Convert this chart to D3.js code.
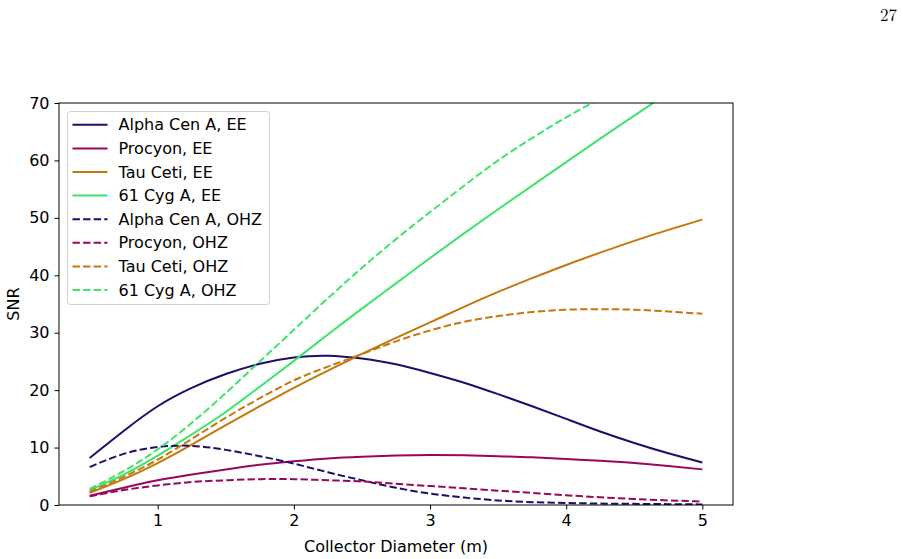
<!DOCTYPE html>
<html>
<head>
<meta charset="utf-8">
<script src="https://cdn.jsdelivr.net/npm/d3@7"></script>
<style>
  body { margin: 0; background: #fff; }
  svg text { font-family: "DejaVu Sans", sans-serif; fill: #000; }
</style>
</head>
<body>
<svg id="chart" width="903" height="559"></svg>
<script>
// collector diameter (m)
const diameters = [0.5, 0.75, 1, 1.25, 1.5, 1.75, 2, 2.25, 2.5, 2.75, 3, 3.25, 3.5, 3.75, 4, 4.25, 4.5, 4.75, 5];

// SNR
const alphaEE = [8.2, 12.9, 17.2, 20.4, 22.8, 24.6, 25.7, 26.0, 25.5, 24.5, 23.0, 21.3, 19.3, 17.2, 15.0, 12.8, 10.8, 9.0, 7.4];
const procyonEE = [1.6, 3.0, 4.3, 5.3, 6.2, 7.0, 7.6, 8.1, 8.4, 8.6, 8.7, 8.65, 8.5, 8.3, 8.0, 7.7, 7.3, 6.8, 6.2];
const tauEE = [2.1, 4.5, 7.3, 10.5, 13.9, 17.2, 20.4, 23.4, 26.3, 29.1, 31.8, 34.5, 37.1, 39.5, 41.8, 43.95, 46.0, 47.9, 49.7];
const cygEE = [2.6, 5.3, 8.6, 12.3, 16.2, 20.6, 25.1, 29.7, 34.2, 38.6, 43.0, 47.3, 51.5, 55.6, 59.7, 63.8, 67.8, 71.8, 75.7];
const alphaOHZ = [6.6, 8.9, 10.1, 10.3, 9.6, 8.5, 7.2, 5.7, 4.3, 3.0, 2.0, 1.3, 0.8, 0.5, 0.35, 0.25, 0.2, 0.15, 0.1];
const procyonOHZ = [1.5, 2.6, 3.4, 4.0, 4.3, 4.5, 4.5, 4.3, 4.1, 3.7, 3.3, 2.9, 2.5, 2.1, 1.7, 1.35, 1.05, 0.8, 0.6];
const tauOHZ = [2.3, 4.9, 7.9, 11.5, 15.2, 18.6, 21.7, 24.1, 26.3, 28.5, 30.4, 31.9, 32.9, 33.6, 34.0, 34.1, 34.0, 33.7, 33.3];
const cygOHZ = [2.8, 5.9, 9.7, 14.3, 19.5, 25.0, 30.5, 36.0, 41.3, 46.3, 51.0, 55.6, 60.0, 63.9, 67.5, 70.8, 74.0, 77.0, 79.8];

const xTicks = [1, 2, 3, 4, 5];
const yTicks = [0, 10, 20, 30, 40, 50, 60, 70];

const NAVY = '#1f0d6b';
const MAGENTA = '#98075a';
const ORANGE = '#c4770c';
const GREEN = '#3ee467';

const series = [
  { name: 'Alpha Cen A, EE', values: alphaEE, color: NAVY, dashed: false },
  { name: 'Procyon, EE', values: procyonEE, color: MAGENTA, dashed: false },
  { name: 'Tau Ceti, EE', values: tauEE, color: ORANGE, dashed: false },
  { name: '61 Cyg A, EE', values: cygEE, color: GREEN, dashed: false },
  { name: 'Alpha Cen A, OHZ', values: alphaOHZ, color: NAVY, dashed: true },
  { name: 'Procyon, OHZ', values: procyonOHZ, color: MAGENTA, dashed: true },
  { name: 'Tau Ceti, OHZ', values: tauOHZ, color: ORANGE, dashed: true },
  { name: '61 Cyg A, OHZ', values: cygOHZ, color: GREEN, dashed: true },
];

const FONT = '16px';
const margin = { left: 59, right: 170, top: 103, bottom: 54 };
const svg = d3.select('#chart');
const W = +svg.attr('width') - margin.left - margin.right;
const H = +svg.attr('height') - margin.top - margin.bottom;

// matplotlib-style 5% padding on x
const xPad = (5 - 0.5) * 0.05;
const x = d3.scaleLinear().domain([0.5 - xPad, 5 + xPad]).range([0, W]);
const y = d3.scaleLinear().domain([0, 70]).range([H, 0]);

svg.append('defs').append('clipPath').attr('id', 'plot-clip')
  .append('rect').attr('width', W).attr('height', H);

// page number
svg.append('text')
  .attr('x', 897).attr('y', 21)
  .attr('text-anchor', 'end')
  .style('font-family', '"Latin Modern Roman", "DejaVu Serif", serif')
  .style('font-size', '17px')
  .text('27');

const g = svg.append('g').attr('transform', `translate(${margin.left},${margin.top})`);

const line = d3.line()
  .x((d, i) => x(diameters[i]))
  .y(d => y(d))
  .curve(d3.curveNatural);

g.append('g').attr('clip-path', 'url(#plot-clip)')
  .selectAll('path.series')
  .data(series)
  .join('path')
    .classed('series', true)
    .attr('d', d => line(d.values))
    .attr('fill', 'none')
    .attr('stroke', d => d.color)
    .attr('stroke-width', 2)
    .attr('stroke-dasharray', d => (d.dashed ? '7.4,3.2' : null));

// axes
const xAxis = d3.axisBottom(x).tickValues(xTicks).tickSize(4.5).tickPadding(5).tickFormat(d3.format('d'));
const yAxis = d3.axisLeft(y).tickValues(yTicks).tickSize(4.5).tickPadding(5).tickFormat(d3.format('d'));

g.append('g').attr('transform', `translate(0,${H})`).call(xAxis)
  .call(a => a.select('.domain').remove());
g.append('g').call(yAxis)
  .call(a => a.select('.domain').remove());

g.selectAll('.tick text').style('font-size', FONT).style('font-family', '"DejaVu Sans", sans-serif');
g.selectAll('.tick line').attr('stroke', '#000').attr('stroke-width', 1);

// frame
g.append('rect')
  .attr('width', W).attr('height', H)
  .attr('fill', 'none').attr('stroke', '#000').attr('stroke-width', 1);

// axis labels
svg.append('text')
  .attr('x', margin.left + W / 2).attr('y', 552)
  .attr('text-anchor', 'middle')
  .style('font-size', FONT)
  .text('Collector Diameter (m)');

svg.append('text')
  .attr('transform', `translate(19,${margin.top + H / 2}) rotate(-90)`)
  .attr('text-anchor', 'middle')
  .style('font-size', FONT)
  .text('SNR');

// legend
const legend = g.append('g').attr('transform', 'translate(8.5,8.5)');
legend.append('rect')
  .attr('width', 202).attr('height', 193)
  .attr('rx', 3)
  .attr('fill', '#fff').attr('fill-opacity', 0.8)
  .attr('stroke', '#d0d0d0').attr('stroke-width', 1);

const rows = legend.selectAll('g.row')
  .data(series)
  .join('g')
    .classed('row', true)
    .attr('transform', (d, i) => `translate(0,${13.3 + i * 23.6})`);

rows.append('line')
  .attr('x1', 5).attr('x2', 40)
  .attr('stroke', d => d.color)
  .attr('stroke-width', 2)
  .attr('stroke-dasharray', d => (d.dashed ? '7.4,3.2' : null));

rows.append('text')
  .attr('x', 51).attr('dy', '0.35em')
  .style('font-size', FONT)
  .text(d => d.name);
</script>
</body>
</html>
